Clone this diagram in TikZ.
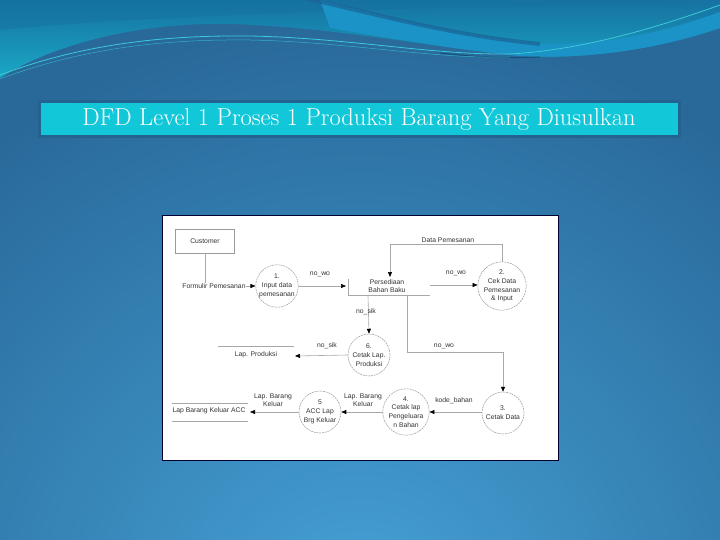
\documentclass[tikz,border=0pt]{standalone}
\usepackage{fontspec}
\usetikzlibrary{arrows.meta}
\newfontfamily\dfont{Liberation Sans}
\definecolor{bgbase}{HTML}{29699A}
\definecolor{bgglow}{HTML}{46A2D6}
\definecolor{topdark}{HTML}{1672A2}
\definecolor{topcyan}{HTML}{1AA8C6}
\definecolor{bandlight}{HTML}{1B93C6}
\definecolor{streak}{HTML}{1A6396}
\definecolor{hilite}{HTML}{3CCAD8}
\definecolor{titlefill}{HTML}{12C8D8}
\definecolor{titleborder}{HTML}{24628F}
\definecolor{linegray}{HTML}{A8A8A8}
\definecolor{shapegray}{HTML}{9A9A9A}
\definecolor{txtgray}{HTML}{333333}
\tikzset{
  proc/.style={circle, draw=shapegray, line width=0.5pt, dash pattern=on 2pt off 0.8pt, minimum size=42pt, inner sep=0pt, align=center, font=\dfont\fontsize{6.8}{8.7}\selectfont, text=txtgray},
  lbl/.style={inner sep=0.5pt, align=center, font=\dfont\fontsize{6.8}{8.2}\selectfont, text=txtgray},
  flow/.style={draw=linegray, line width=0.6pt, -{Triangle[length=5pt,width=4pt,color=black]}},
  storeline/.style={draw=linegray, line width=0.6pt},
  entity/.style={draw=shapegray, line width=0.6pt, minimum width=59pt, minimum height=24pt, inner sep=0pt, font=\dfont\fontsize{6.8}{8.2}\selectfont, text=txtgray}
}
\begin{document}
\begin{tikzpicture}[x=1pt,y=-1pt]
\useasboundingbox (0,0) rectangle (720,540);
% background
\fill[bgbase] (0,0) rectangle (720,540);
\begin{scope}
  \clip (0,0) rectangle (720,540);
  \shade[inner color=bgglow, outer color=bgbase] (360,620) circle (600);
  % top wave region
  \shade[top color=topdark, bottom color=topcyan]
    (0,0) -- (0,78) .. controls (60,40) and (150,22) .. (230,24)
    .. controls (330,27) and (420,45) .. (520,56)
    .. controls (600,60) and (670,45) .. (720,28) -- (720,0) -- cycle;
  \fill[topdark, opacity=0.5] (0,0) -- (0,30) .. controls (200,10) and (600,5) .. (720,0) -- cycle;
  % light band on the right
  \fill[bandlight]
    (320,0) .. controls (380,15) and (450,35) .. (540,44)
    .. controls (610,46) and (670,30) .. (720,12) -- (720,28)
    .. controls (670,45) and (600,60) .. (520,56)
    .. controls (460,50) and (400,40) .. (330,28) -- cycle;
  \draw[streak, line width=4pt, opacity=0.7] (300,-3) .. controls (380,15) and (450,35) .. (540,44);
  \draw[streak!80!black, line width=1pt] (440,53) .. controls (480,58) and (520,58) .. (540,57);
  % highlight
  \draw[hilite, line width=0.8pt] (0,75) .. controls (80,45) and (160,35) .. (250,36)
    .. controls (350,38) and (430,55) .. (510,54) .. controls (580,50) and (650,30) .. (720,5);
  \draw[hilite, line width=0.5pt, opacity=0.7] (0,79) .. controls (80,49) and (160,39) .. (250,40)
    .. controls (350,42) and (430,59) .. (510,57);
\end{scope}
% title
\node[draw=titleborder, line width=3pt, fill=titlefill, minimum width=640pt, minimum height=35pt, inner sep=0pt, text=white, font=\fontsize{24.5}{28}\selectfont] (title) at (359,119.5) {DFD Level 1 Proses 1 Produksi Barang Yang Diusulkan};
% diagram sheet
\draw[fill=white, draw=black!80!blue, line width=0.7pt] (162,215) rectangle (558,460);
% nodes
\node[entity] (cust) at (205,241) {Customer};
\node[proc] (p1) at (277,286) {1.\\Input data\\pemesanan};
\node[proc] (p2) at (502,286) {2.\\Cek Data\\Pemesanan\\\& Input};
\node[proc] (p6) at (369,355) {6.\\Cetak Lap.\\Produksi};
\node[proc] (p3) at (503,413) {3.\\Cetak Data};
\node[proc] (p4) at (406,412) {4.\\Cetak lap\\Pengeluara\\n Bahan};
\node[proc] (p5) at (320,412) {5\\ACC Lap\\Brg Keluar};
% stores
\node[lbl] (pbb) at (387,286) {Persediaan\\Bahan Baku};
\draw[storeline] (348,279) -- (348,295) -- (430,295);
\coordinate (pbbL) at (346,286);
\coordinate (pbbR) at (430,285);
\coordinate (pbbT) at (390,277);
\coordinate (pbbB1) at (368,295);
\coordinate (pbbB2) at (407,295);
\node[lbl] (lp) at (256,355) {Lap. Produksi};
\draw[storeline] (218,346) -- (294,346);
\coordinate (lpR) at (295,356);
\node[lbl] (lbk) at (209,411) {Lap Barang Keluar ACC};
\draw[storeline] (172,403) -- (248,403);
\draw[storeline] (172,421) -- (248,421);
\coordinate (lbkR) at (250,412);
% flows
\draw[flow] (cust.south) |- (p1.west);
\node[lbl, fill=white] (lf) at (214,286) {Formulir Pemesanan};
\draw[flow] (p1.east |- pbbL) -- (pbbL);
\node[lbl] (l1) at (320,274) {no\_wo};
\draw[flow] (p2.north) -- ++(0,-17) -| (pbbT);
\node[lbl] (l2) at (448,240) {Data Pemesanan};
\draw[flow] (pbbR) -- (p2.west |- pbbR);
\node[lbl] (l3) at (456,273) {no\_wo};
\draw[flow] (pbbB1) -- (p6.north);
\node[lbl] (l4) at (366,312) {no\_sik};
\draw[flow] (pbbB2) |- (503,352) -- (p3.north);
\node[lbl] (l5) at (444,346) {no\_wo};
\draw[flow] (p6.west) -- (lpR);
\node[lbl] (l6) at (327,346) {no\_sik};
\draw[flow] (p3.west |- p4) -- (p4.east);
\node[lbl] (l7) at (454,401) {kode\_bahan};
\draw[flow] (p4.west) -- (p5.east);
\node[lbl] (l8) at (363,400) {Lap. Barang\\Keluar};
\draw[flow] (p5.west) -- (lbkR);
\node[lbl] (l9) at (273,400) {Lap. Barang\\Keluar};
\end{tikzpicture}
\end{document}
